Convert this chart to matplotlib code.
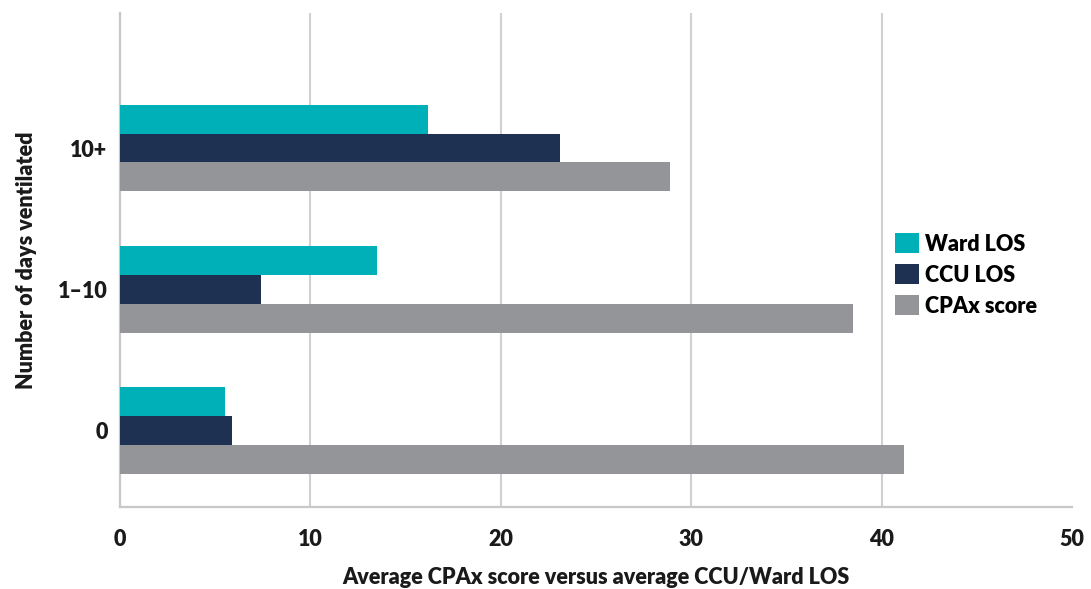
import matplotlib
matplotlib.use("Agg")
import matplotlib.pyplot as plt
import numpy as np

plt.rcParams['font.family'] = ['Lato', 'DejaVu Sans']
plt.rcParams['font.weight'] = 'heavy'
plt.rcParams['axes.labelweight'] = 'heavy'

# Days ventilated groups (bottom to top)
categories = ["0", "1\u201310", "10+"]
ward_los = [5.5, 13.5, 16.2]
ccu_los = [5.9, 7.4, 23.1]
cpax_score = [41.2, 38.5, 28.9]

series_names = ["Ward LOS", "CCU LOS", "CPAx score"]
series_colors = ["#00B0B9", "#1E3152", "#939598"]
x_ticks = [0, 10, 20, 30, 40, 50]

FS = 15.5
TXT = '#1a1a1a'

fig = plt.figure(figsize=(10.91, 5.89), dpi=100)
ax = fig.add_axes([120 / 1091, 1 - 507 / 589, (1072 - 120) / 1091, (507 - 13) / 589])

y = np.arange(len(categories))
h = 0.205
for i, (vals, name, col) in enumerate(zip([ward_los, ccu_los, cpax_score], series_names, series_colors)):
    ax.barh(y + (1 - i) * h, vals, height=h, color=col, label=name, zorder=3)

ax.set_xlim(0, 50)
ax.set_ylim(-0.542, 2.956)
ax.set_xticks(x_ticks)
ax.set_xticklabels([str(t) for t in x_ticks])
ax.set_yticks(y)
ax.set_yticklabels(categories)

ax.grid(axis='x', color='#D0D0D0', linewidth=1.5, zorder=0)
for gl, t in zip(ax.xaxis.get_gridlines(), x_ticks):
    if t in (0, 50):
        gl.set_visible(False)

for side in ('top', 'right'):
    ax.spines[side].set_visible(False)
for side in ('left', 'bottom'):
    ax.spines[side].set_color('#C8C8C8')
    ax.spines[side].set_linewidth(1.6)

ax.tick_params(axis='x', length=0, pad=16, labelsize=FS, colors=TXT)
ax.tick_params(axis='y', length=0, pad=9, labelsize=FS, colors=TXT)

ax.set_xlabel("Average CPAx score versus average CCU/Ward LOS", fontsize=FS,
              fontweight='heavy', color=TXT, labelpad=12)
ax.set_ylabel("Number of days ventilated", fontsize=FS, fontweight='heavy',
              color=TXT, labelpad=15)

fig.legend(loc='center left', bbox_to_anchor=(895 / 1091, 1 - 275 / 589),
           frameon=False, fontsize=FS, handlelength=1.1, handleheight=1.05,
           handletextpad=0.3, labelspacing=0.45, borderpad=0, borderaxespad=0)

fig.savefig("out.png", dpi=100, facecolor='white')
